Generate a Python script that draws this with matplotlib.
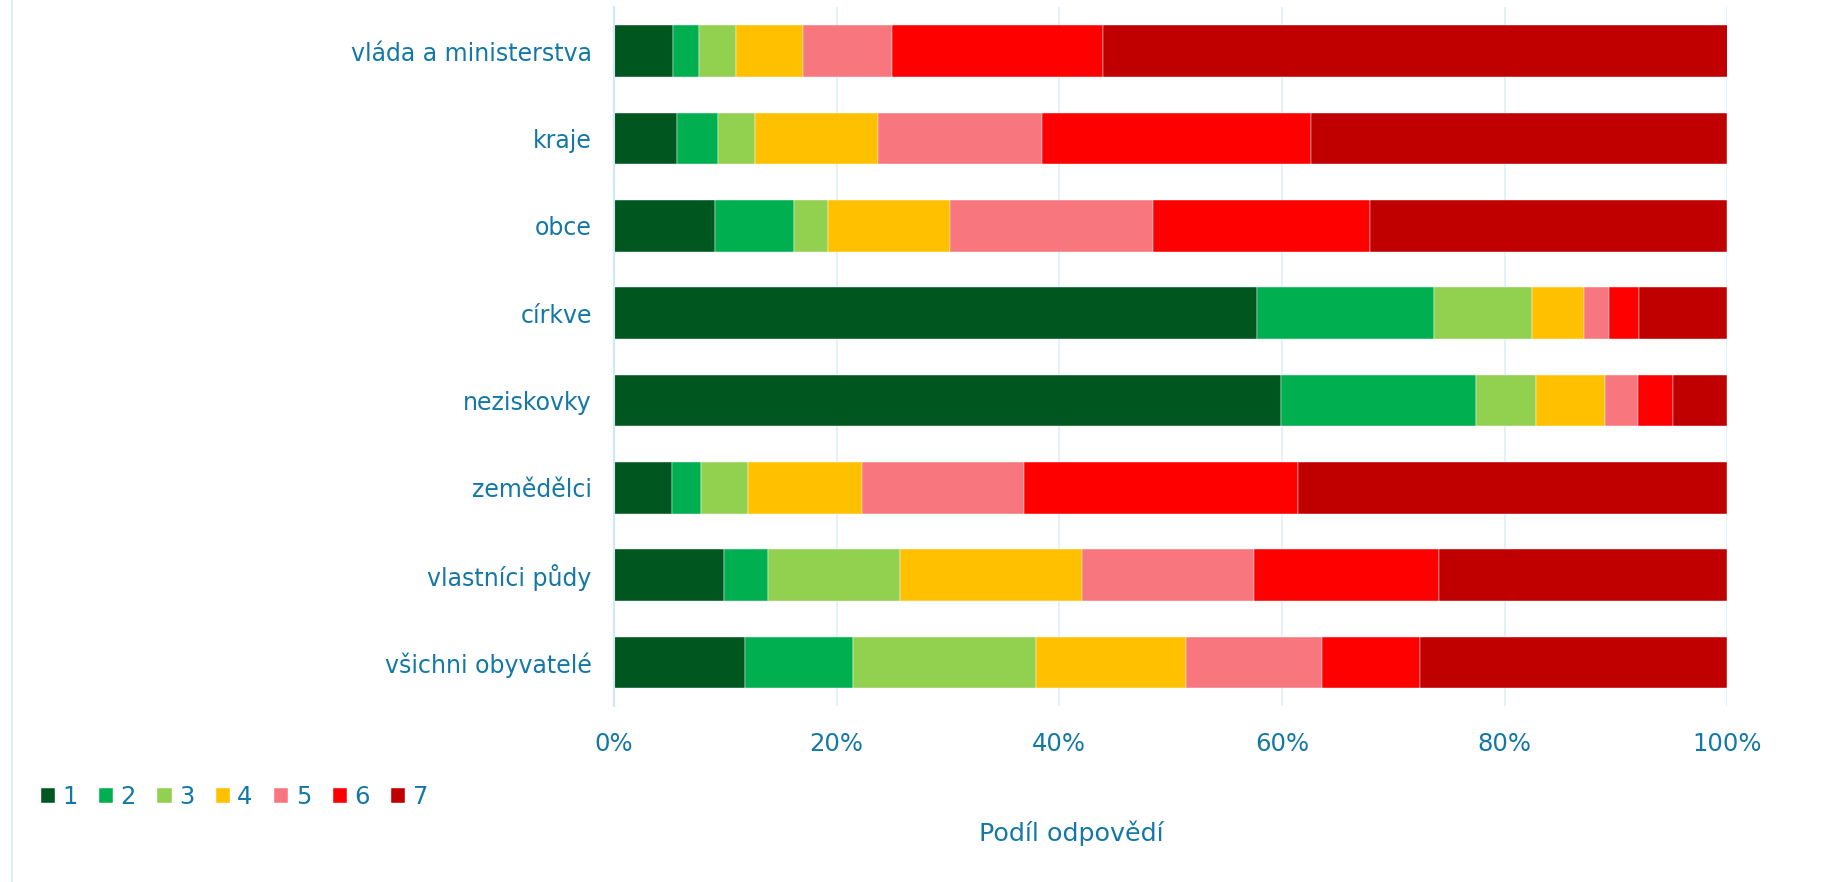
import matplotlib.pyplot as plt
from matplotlib.lines import Line2D

# categories, top to bottom
categories = [
    "vláda a ministerstva",
    "kraje",
    "obce",
    "církve",
    "neziskovky",
    "zemědělci",
    "vlastníci půdy",
    "všichni obyvatelé",
]

series_labels = ["1", "2", "3", "4", "5", "6", "7"]

# share of answers (%) per category, one list per answer level
s1 = [5.3, 5.7, 9.1, 57.8, 59.9, 5.2, 9.9, 11.8]
s2 = [2.3, 3.6, 7.1, 15.9, 17.5, 2.6, 3.9, 9.7]
s3 = [3.35, 3.35, 3.0, 8.8, 5.4, 4.2, 11.9, 16.4]
s4 = [6.05, 11.1, 11.0, 4.6, 6.2, 10.3, 16.3, 13.5]
s5 = [7.95, 14.7, 18.2, 2.3, 3.0, 14.5, 15.5, 12.2]
s6 = [19.0, 24.2, 19.5, 2.7, 3.1, 24.6, 16.6, 8.8]
s7 = [56.1, 37.3, 32.1, 7.9, 4.9, 38.6, 25.9, 27.6]

colors = ["#00561F", "#00B050", "#92D050", "#FFC000", "#F8777E", "#FF0000", "#C00000"]
text_color = "#1478A6"
grid_color = "#DCF0FA"

plt.rcParams["font.family"] = ["DejaVu Sans"]

fig = plt.figure(figsize=(18.22, 8.82), dpi=100)
ax = fig.add_axes([0.337, 0.1995, 0.611, 0.792])

series = [s1, s2, s3, s4, s5, s6, s7]
y = list(range(len(categories)))
left = [0.0] * len(categories)
handles = []
for vals, col, lab in zip(series, colors, series_labels):
    bars = ax.barh(y, vals, left=left, height=0.59, color=col, label=lab,
                   edgecolor="white", linewidth=0.3)
    handles.append(bars)
    left = [l + v for l, v in zip(left, vals)]

ax.set_xlim(0, 100)
ax.set_ylim(len(categories) - 0.5, -0.5)
ax.set_yticks(y)
ax.set_yticklabels(categories)
ax.set_xticks([0, 20, 40, 60, 80, 100])
ax.set_xticklabels(["0%", "20%", "40%", "60%", "80%", "100%"])
ax.tick_params(axis="both", length=0, labelcolor=text_color)
ax.tick_params(axis="y", labelsize=17, pad=16)
ax.tick_params(axis="x", labelsize=17.5, pad=19)

ax.set_axisbelow(True)
ax.grid(axis="x", color=grid_color, linewidth=1.2)
for side in ["top", "right", "bottom"]:
    ax.spines[side].set_visible(False)
ax.spines["left"].set_color("#CDE9F7")
ax.spines["left"].set_linewidth(1.5)

fig.text(0.588, 1 - 833 / 882, "Podíl odpovědí", ha="center", va="center",
         fontsize=18.3, color=text_color)

# faint border line at the left of the chart area
fig.add_artist(Line2D([0.0066, 0.0066], [0, 1], transform=fig.transFigure,
                      color="#DCF0FA", linewidth=1.5))

leg = fig.legend(handles=handles, loc="center left",
                 bbox_to_anchor=(0.017, 1 - 797 / 882), ncol=7, frameon=False,
                 fontsize=17.5, handlelength=0.58, handleheight=0.58,
                 handletextpad=0.3, columnspacing=0.89, borderaxespad=0)
for t in leg.get_texts():
    t.set_color(text_color)

fig.savefig("out.png", dpi=100)
